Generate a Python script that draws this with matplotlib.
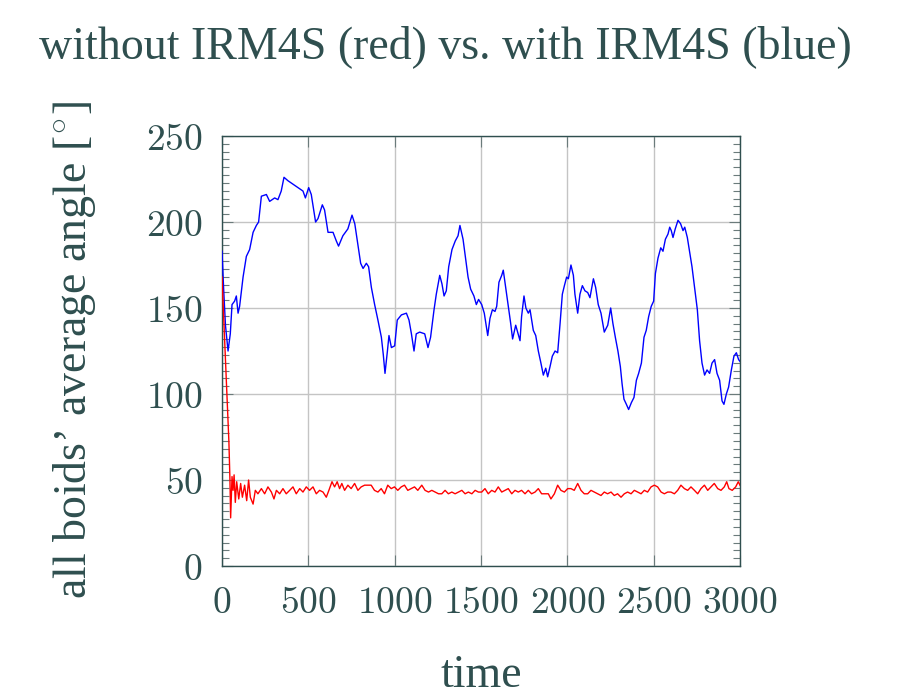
import matplotlib
matplotlib.use('Agg')
import matplotlib.pyplot as plt
from matplotlib.ticker import MultipleLocator, AutoMinorLocator, FuncFormatter

# with IRM4S (blue)
t_blue = [0, 10, 20, 35, 48, 58, 73, 83, 93, 102, 122, 141, 160, 180, 199, 212, 228, 257,
          276, 305, 324, 343, 359, 382, 411, 440, 469, 483, 502, 517, 542, 556, 581, 594,
          614, 643, 662, 675, 700, 729, 753, 769, 788, 803, 817, 836, 849, 865, 884, 903,
          923, 934, 944, 958, 967, 981, 1000, 1015, 1039, 1068, 1083, 1097, 1112, 1125,
          1145, 1174, 1193, 1208, 1228, 1241, 1261, 1274, 1286, 1299, 1313, 1332, 1351,
          1367, 1378, 1396, 1409, 1425, 1440, 1459, 1473, 1486, 1504, 1519, 1539, 1552,
          1566, 1581, 1591, 1604, 1620, 1629, 1643, 1658, 1672, 1683, 1701, 1712, 1726,
          1735, 1749, 1760, 1774, 1784, 1803, 1817, 1832, 1847, 1861, 1875, 1886, 1900,
          1913, 1929, 1944, 1958, 1971, 1983, 1996, 2006, 2021, 2035, 2044, 2060, 2073,
          2087, 2102, 2118, 2131, 2151, 2164, 2179, 2195, 2214, 2234, 2251, 2264, 2278,
          2293, 2307, 2317, 2328, 2342, 2355, 2371, 2386, 2400, 2413, 2429, 2444, 2457,
          2471, 2486, 2500, 2510, 2525, 2541, 2554, 2568, 2583, 2593, 2602, 2612, 2625,
          2641, 2656, 2670, 2680, 2695, 2708, 2722, 2737, 2753, 2766, 2780, 2795, 2809,
          2824, 2838, 2853, 2867, 2882, 2896, 2907, 2921, 2934, 2950, 2965, 2979, 2992, 3000]
angle_blue = [183, 160, 140, 125, 135, 152, 154, 157, 147, 151, 168, 180, 184, 194, 198, 200,
              215, 216, 212, 214, 213, 218, 226, 224, 222, 220, 218, 214, 220, 216, 200, 202,
              210, 207, 194, 194, 189, 186, 192, 196, 204, 199, 186, 176, 173, 176, 174, 162,
              152, 143, 133, 123, 112, 125, 134, 127, 128, 143, 146, 147, 143, 135, 125, 135,
              136, 135, 127, 133, 149, 158, 169, 164, 157, 160, 174, 184, 189, 192, 198, 190,
              180, 168, 161, 157, 152, 155, 152, 147, 134, 144, 149, 148, 151, 165, 169, 172,
              162, 151, 141, 132, 140, 136, 131, 145, 157, 150, 147, 149, 137, 134, 125, 118,
              111, 115, 110, 116, 122, 125, 124, 141, 158, 163, 168, 167, 175, 169, 158, 147,
              158, 163, 160, 159, 156, 167, 162, 152, 147, 136, 140, 150, 141, 133, 125, 116,
              106, 97, 94, 91, 95, 98, 108, 112, 118, 133, 137, 145, 151, 154, 170, 179, 185,
              183, 190, 193, 197, 195, 191, 196, 201, 199, 195, 197, 191, 183, 174, 162, 149,
              131, 118, 111, 114, 112, 118, 120, 112, 108, 96, 94, 100, 104, 114, 122, 124,
              120, 119]

# without IRM4S (red)
t_red = [0, 20, 40, 46, 50, 58, 64, 70, 77, 85, 97, 108, 118, 131, 143, 154, 164, 180, 193,
         208, 228, 247, 266, 286, 301, 315, 334, 353, 372, 392, 411, 430, 450, 469, 488, 507,
         527, 546, 565, 585, 604, 619, 637, 652, 667, 681, 694, 710, 729, 748, 768, 787, 806,
         826, 845, 864, 883, 903, 922, 941, 960, 980, 999, 1018, 1038, 1057, 1076, 1095, 1115,
         1134, 1157, 1176, 1196, 1215, 1234, 1254, 1273, 1292, 1311, 1331, 1350, 1369, 1389,
         1408, 1427, 1447, 1466, 1485, 1504, 1523, 1542, 1562, 1581, 1600, 1620, 1639, 1658,
         1678, 1697, 1716, 1735, 1755, 1774, 1793, 1813, 1832, 1851, 1871, 1890, 1905, 1925,
         1944, 1963, 1983, 2002, 2021, 2040, 2060, 2079, 2098, 2118, 2137, 2156, 2176, 2195,
         2214, 2233, 2253, 2272, 2291, 2311, 2330, 2349, 2369, 2388, 2407, 2427, 2446, 2465,
         2485, 2504, 2523, 2543, 2562, 2581, 2600, 2620, 2639, 2658, 2678, 2697, 2716, 2736,
         2755, 2774, 2794, 2813, 2832, 2851, 2871, 2890, 2909, 2923, 2936, 2955, 2975, 2990, 3000]
angle_red = [168, 120, 72, 50, 28, 52, 44, 53, 37, 49, 39, 48, 40, 47, 38, 50, 40, 36, 44,
             42, 45, 42, 46, 43, 39, 44, 42, 45, 42, 44, 46, 42, 45, 43, 46, 44, 46, 42, 44, 43,
             40, 44, 49, 46, 49, 45, 48, 44, 47, 45, 48, 44, 46, 47, 47, 47, 44, 43, 45, 42, 47,
             45, 46, 44, 46, 47, 44, 45, 46, 44, 47, 44, 43, 44, 43, 42, 42, 44, 42, 43, 42, 43,
             44, 42, 43, 42, 44, 43, 43, 45, 42, 44, 43, 46, 43, 44, 45, 42, 44, 43, 44, 42, 44,
             42, 43, 45, 42, 42, 42, 39, 42, 47, 44, 43, 45, 45, 44, 48, 44, 42, 42, 44, 43, 42,
             41, 43, 42, 43, 41, 42, 40, 42, 43, 42, 44, 43, 42, 44, 43, 46, 47, 46, 43, 42, 43,
             43, 42, 44, 47, 45, 44, 46, 44, 42, 45, 47, 44, 46, 48, 45, 44, 46, 49, 45, 44, 46,
             49, 47]

slate = '#2f4f4f'
serif = ['Liberation Serif', 'DejaVu Serif']
plt.rcParams['mathtext.fontset'] = 'cm'

fig = plt.figure(figsize=(9.01, 7.0), dpi=100)
ax = fig.add_axes([0.2464, 0.1914, 0.5749, 0.6143])

ax.plot(t_blue, angle_blue, color='#0000ff', lw=1.0, zorder=3)
ax.plot(t_red, angle_red, color='#ff0000', lw=1.0, zorder=3)

ax.set_xlim(0, 3000)
ax.set_ylim(0, 250)
ax.xaxis.set_major_locator(MultipleLocator(500))
ax.yaxis.set_major_locator(MultipleLocator(50))
ax.yaxis.set_minor_locator(AutoMinorLocator(11))
fmt = FuncFormatter(lambda v, p: '$%d$' % v)
ax.xaxis.set_major_formatter(fmt)
ax.yaxis.set_major_formatter(fmt)

ax.grid(True, color='#c4c4c4', lw=1.0, zorder=0)
for s in ax.spines.values():
    s.set_color(slate)
    s.set_linewidth(1.0)

ax.tick_params(axis='both', which='both', direction='in', top=True, right=True,
               colors='#6b7b7b', labelcolor=slate, labelsize=27)
ax.tick_params(axis='both', which='major', length=8, width=0.8)
ax.tick_params(axis='y', which='minor', length=5, width=0.8)
ax.tick_params(axis='x', which='major', pad=14)
ax.tick_params(axis='y', which='major', pad=14)

fig.text(0.494, 0.934, 'without IRM4S (red) vs. with IRM4S (blue)', ha='center', va='center',
         fontsize=33, color=slate, family=serif)
fig.text(0.083, 0.50, 'all boids\u2019 average angle [$^{\\circ}$]', rotation=90, ha='center',
         va='center', fontsize=33, color=slate, family=serif)
fig.text(0.534, 0.034, 'time', ha='center', va='center', fontsize=33, color=slate, family=serif)

fig.savefig('out.png', dpi=100)
